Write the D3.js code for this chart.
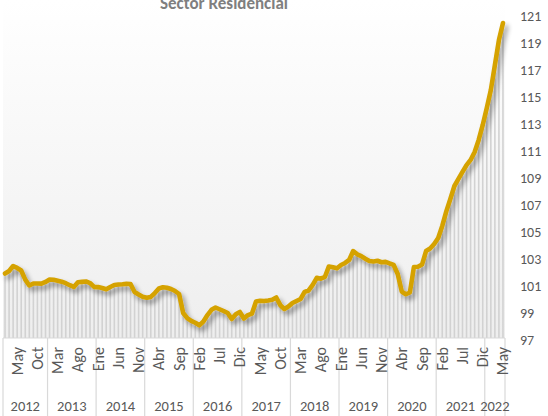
<!DOCTYPE html>
<html>
<head>
<meta charset="utf-8">
<script src="https://cdn.jsdelivr.net/npm/d3@7"></script>
<style>
  html, body { margin: 0; padding: 0; background: #ffffff; }
  svg { display: block; font-family: Carlito, Calibri, Lato, "Open Sans", sans-serif; }
</style>
</head>
<body>
<script>
// ---- Data ----
const title = "Sector Residencial";
const monthNames = ["Ene","Feb","Mar","Abr","May","Jun","Jul","Ago","Sep","Oct","Nov","Dic"];
const years = [2012, 2013, 2014, 2015, 2016, 2017, 2018, 2019, 2020, 2021, 2022];
const firstMonthIndex = 1;   // series starts in Feb 2012
const labelEvery = 5;        // month label interval
const labelOffset = 3;       // first labelled category (May 2012)
const yTicks = [97, 99, 101, 103, 105, 107, 109, 111, 113, 115, 117, 119, 121];
const values = [
  101.78, 101.96, 102.33, 102.19, 102.00, 101.32, 100.89, 101.04, 101.04, 101.03, 101.15, // 2012 Feb-Dic
  101.33, 101.31, 101.24, 101.17, 101.06, 100.91, 100.78, 101.13, 101.16, 101.19, 101.07, 100.79, // 2013
  100.77, 100.70, 100.61, 100.78, 100.93, 100.96, 100.98, 101.01, 101.00, 100.41, 100.22, 100.05, // 2014
  99.98, 100.04, 100.33, 100.67, 100.76, 100.72, 100.63, 100.48, 100.26, 98.85, 98.48, 98.27,     // 2015
  98.13, 97.94, 98.22, 98.70, 99.09, 99.26, 99.13, 99.00, 98.85, 98.41, 98.76, 98.93,             // 2016
  98.44, 98.70, 98.81, 99.70, 99.76, 99.74, 99.78, 99.83, 100.00, 99.43, 99.15, 99.33,            // 2017
  99.59, 99.74, 99.89, 100.41, 100.52, 100.93, 101.46, 101.39, 101.52, 102.30, 102.24, 102.17,    // 2018
  102.41, 102.56, 102.78, 103.44, 103.20, 103.07, 102.87, 102.70, 102.67, 102.72, 102.61, 102.64, // 2019
  102.52, 102.41, 101.74, 100.44, 100.24, 100.37, 102.26, 102.28, 102.44, 103.44, 103.63, 103.96, // 2020
  104.41, 105.30, 106.38, 107.30, 108.26, 108.78, 109.30, 109.81, 110.19, 110.78, 111.67, 112.78, // 2021
  114.04, 115.37, 117.22, 119.07, 120.33                                                          // 2022 Ene-May
];

// categories built from the month names / years
const categories = values.map((v, i) => {
  const m = firstMonthIndex + i;
  return { month: monthNames[m % 12], year: years[0] + Math.floor(m / 12), value: v, i };
});

// ---- Layout ----
const W = 548, H = 416;
const plot = { left: 3, right: 505, top: 0, bottom: 338 };

const svg = d3.select("body").append("svg").attr("width", W).attr("height", H);
const defs = svg.append("defs");

const bg = defs.append("linearGradient").attr("id", "bg").attr("x1", 0).attr("y1", 0).attr("x2", 0).attr("y2", 1);
bg.append("stop").attr("offset", "0%").attr("stop-color", "#ffffff");
bg.append("stop").attr("offset", "100%").attr("stop-color", "#eeeeee");

const shadow = defs.append("filter").attr("id", "shadow")
  .attr("x", "-10%").attr("y", "-10%").attr("width", "130%").attr("height", "140%");
shadow.append("feGaussianBlur").attr("in", "SourceAlpha").attr("stdDeviation", 2.4).attr("result", "b");
shadow.append("feOffset").attr("in", "b").attr("dx", 3).attr("dy", 4).attr("result", "o");
shadow.append("feComponentTransfer").attr("in", "o").attr("result", "s")
  .append("feFuncA").attr("type", "linear").attr("slope", 0.38);
const merge = shadow.append("feMerge");
merge.append("feMergeNode").attr("in", "s");
merge.append("feMergeNode").attr("in", "SourceGraphic");

const x = d3.scaleBand().domain(d3.range(values.length)).range([plot.left, plot.right]).padding(0);
const y = d3.scaleLinear().domain([97, 121]).range([plot.bottom, 14]);
const cx = i => x(i) + x.bandwidth() / 2;

// plot background
svg.append("rect").attr("x", plot.left).attr("y", plot.top)
  .attr("width", plot.right - plot.left).attr("height", plot.bottom - plot.top)
  .attr("fill", "url(#bg)");

// bars
svg.append("g").selectAll("rect").data(categories).join("rect")
  .attr("x", d => cx(d.i) - 0.8)
  .attr("width", 1.6)
  .attr("y", d => y(d.value))
  .attr("height", d => plot.bottom - y(d.value))
  .attr("fill", "#d2d2d2");

// line
const line = d3.line().x(d => cx(d.i)).y(d => y(d.value));
svg.append("path").datum(categories)
  .attr("d", line)
  .attr("fill", "none")
  .attr("stroke", "#d5a200")
  .attr("stroke-width", 4.6)
  .attr("stroke-linejoin", "round")
  .attr("stroke-linecap", "round")
  .attr("filter", "url(#shadow)");

// y axis (right)
const yAxis = svg.append("g").attr("transform", `translate(${plot.right},0)`)
  .call(d3.axisRight(y).tickValues(yTicks).tickSize(0).tickPadding(15).tickFormat(d3.format("d")));
yAxis.select(".domain").remove();
yAxis.selectAll("text").attr("fill", "#595959").attr("font-size", 14)
  .attr("font-family", "Carlito, Calibri, Lato, sans-serif").attr("dy", "0.45em");

// x axis frame
const axisG = svg.append("g");
axisG.append("line").attr("x1", plot.left).attr("x2", plot.right)
  .attr("y1", plot.bottom).attr("y2", plot.bottom).attr("stroke", "#d9d9d9");

// year boundaries
const yearGroups = years.map(yr => {
  const idx = categories.filter(c => c.year === yr).map(c => c.i);
  return { year: yr, start: x(d3.min(idx)), end: x(d3.max(idx)) + x.bandwidth() };
});
const bounds = [plot.left].concat(yearGroups.map(g => g.end));
axisG.selectAll("line.sep").data(bounds).join("line").attr("class", "sep")
  .attr("x1", d => d).attr("x2", d => d).attr("y1", plot.bottom).attr("y2", H)
  .attr("stroke", "#d9d9d9").attr("stroke-width", 1.2);

// month labels via axis
const labelled = categories.filter(c => (c.i - labelOffset) % labelEvery === 0 && c.i >= labelOffset).map(c => c.i);
const xAxis = svg.append("g").attr("transform", `translate(0,${plot.bottom})`)
  .call(d3.axisBottom(x).tickValues(labelled).tickSize(0).tickFormat(i => categories[i].month));
xAxis.select(".domain").remove();
xAxis.selectAll("text")
  .attr("fill", "#595959").attr("font-size", 16)
  .attr("font-family", "Carlito, Calibri, Lato, sans-serif")
  .attr("text-anchor", "end")
  .attr("dominant-baseline", "central")
  .attr("transform", "translate(0,9) rotate(-90)")
  .attr("x", 0).attr("y", 0).attr("dy", 0);

// year labels
axisG.selectAll("text.year").data(yearGroups).join("text").attr("class", "year")
  .attr("x", d => (d.start + d.end) / 2).attr("y", 411)
  .attr("text-anchor", "middle").attr("fill", "#595959").attr("font-size", 14.5)
  .text(d => d.year);

// title
svg.append("text").attr("x", 224).attr("y", 9)
  .attr("text-anchor", "middle").attr("font-weight", "bold").attr("font-size", 17)
  .attr("fill", "#7f7f7f").text(title);
</script>
</body>
</html>
